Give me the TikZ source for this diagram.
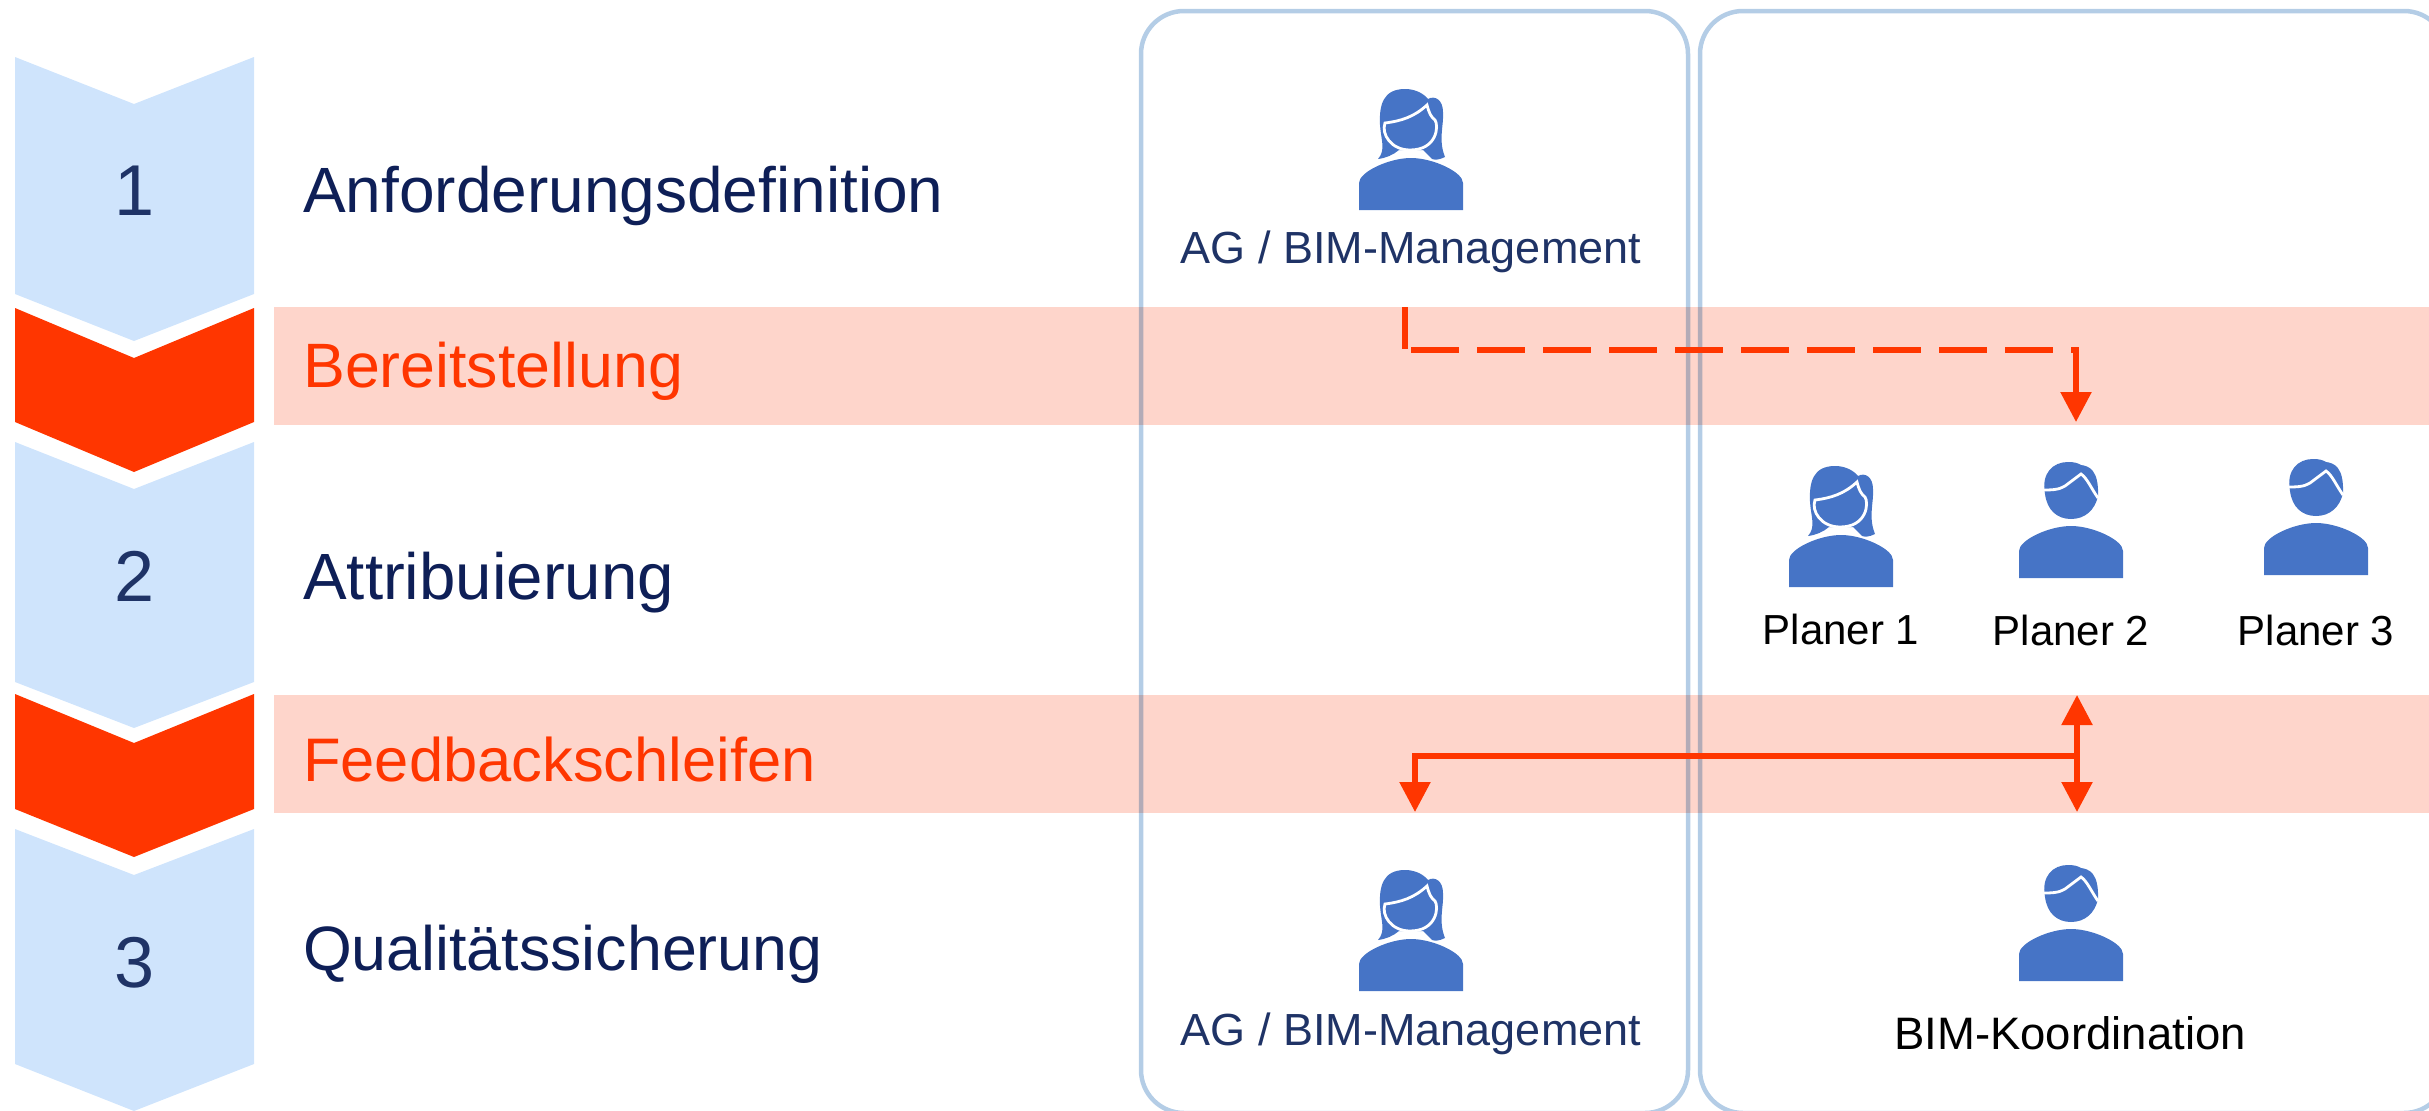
\documentclass[tikz,border=0pt]{standalone}
\usepackage{fontspec}
\setmainfont{Liberation Sans}
\usetikzlibrary{arrows.meta}
\definecolor{stepblue}{HTML}{CFE4FC}
\definecolor{signalred}{HTML}{FF3600}
\definecolor{bandred}{HTML}{FED5CB}
\definecolor{laneblue}{HTML}{B4CDE6}
\definecolor{iconblue}{HTML}{4674C6}
\definecolor{darknavy}{HTML}{0E1F57}
\definecolor{midnavy}{HTML}{1F3366}

\begin{document}
\begin{tikzpicture}[
                    x=1pt, y=-1pt,
                    chevblue/.style={fill=stepblue},
                    chevred/.style={fill=signalred},
                    band/.style={fill=bandred},
                    lane/.style={draw=laneblue, line width=4.5pt, rounded corners=43pt},
                    numlabel/.style={anchor=base, inner sep=0pt, text=midnavy, font=\fontsize{72}{72}\selectfont},
                    phase/.style={anchor=base west, inner sep=0pt, text=darknavy, font=\fontsize{#1}{#1}\selectfont},
                    phase/.default=64,
                    phasered/.style={phase=#1, text=signalred},
                    rolelabel/.style={anchor=base, inner sep=0pt, text=midnavy, font=\fontsize{45}{45}\selectfont},
                    namelabel/.style={anchor=base, inner sep=0pt, text=black, font=\fontsize{#1}{#1}\selectfont},
                    namelabel/.default=42,
                    flow/.style={draw=signalred, line width=5.5pt},
                    flowtip/.style={flow, -{Triangle[length=30pt, width=30pt]}},
                    flowboth/.style={flow, {Triangle[length=30pt, width=30pt]}-{Triangle[length=30pt, width=30pt]}},
                    personF/.pic={
                        % hair
                        \fill[iconblue] (-33,-51) .. controls (-25,-60) and (-30,-70) .. (-31,-85)
                            .. controls (-32,-105) and (-28,-121) .. (-6,-121)
                            .. controls (5,-121) and (13,-116) .. (17,-111)
                            .. controls (24,-115) and (32,-110) .. (32,-98)
                            .. controls (33,-85) and (27,-70) .. (34,-53)
                            .. controls (28,-50) and (24,-50) .. (21,-51)
                            -- (12,-60) -- (-12,-60) .. controls (-18,-55) and (-25,-52) .. cycle;
                        % face
                        \draw[fill=iconblue, draw=white, line width=2.8pt] (-26,-87)
                            .. controls (-10,-89) and (3,-93) .. (16,-105)
                            .. controls (18,-97) and (20,-93) .. (24,-90)
                            .. controls (28,-84) and (26,-60) .. (-1,-60)
                            .. controls (-20,-60) and (-30,-76) .. cycle;
                        % body
                        \fill[iconblue] (-52,0) -- (-52,-27)
                            .. controls (-52,-38) and (-22,-52) .. (0,-52)
                            .. controls (22,-52) and (52,-38) .. (52,-27)
                            -- (52,0) -- cycle;
                    },
                    personM/.pic={
                        % head
                        \fill[iconblue] (-26,-84) .. controls (-30,-105) and (-18,-116) .. (-3,-116)
                            .. controls (3,-116) and (7,-115) .. (10,-113)
                            .. controls (18,-112) and (28,-108) .. (27,-82)
                            .. controls (24,-68) and (14,-59) .. (0,-59)
                            .. controls (-14,-59) and (-24,-68) .. cycle;
                        % hair line
                        \draw[white, line width=2.8pt] (-29,-88)
                            .. controls (-20,-88) and (-12,-88) .. (-6,-92)
                            -- (10,-104) .. controls (16,-100) and (20,-90) .. (27,-80);
                        % body
                        \fill[iconblue] (-52,0) -- (-52,-27)
                            .. controls (-52,-38) and (-22,-52) .. (0,-52)
                            .. controls (22,-52) and (52,-38) .. (52,-27)
                            -- (52,0) -- cycle;
                    }
                ]
                \useasboundingbox (0,0) rectangle (2429,1111);
                \clip (0,0) rectangle (2429,1111);

                % left column of steps
                \path[chevblue] (15,57) -- (134,104) -- (254,57) -- (254,294) -- (134,341) -- (15,294) -- cycle;
                \path[chevred] (15,308) -- (134,358) -- (254,308) -- (254,422) -- (134,472) -- (15,422) -- cycle;
                \path[chevblue] (15,442) -- (134,489) -- (254,442) -- (254,682) -- (134,728) -- (15,682) -- cycle;
                \path[chevred] (15,694) -- (134,743) -- (254,694) -- (254,809) -- (134,857) -- (15,809) -- cycle;
                \path[chevblue] (15,829) -- (134,875) -- (254,829) -- (254,1064) -- (134,1111) -- (15,1064) -- cycle;

                % bands
                \path[band] (274,307) rectangle (2429,425);
                \path[band] (274,695) rectangle (2429,813);

                % lanes
                \begin{scope}[blend mode=multiply]
                    \draw[lane] (1141,11) rectangle (1688,1113);
                    \draw[lane] (1700,11) rectangle (2447,1113);
                \end{scope}

                \node (numOne) at (135,215)[numlabel]{1};
                \node (numTwo) at (135,601)[numlabel]{2};
                \node (numThree) at (135,987)[numlabel]{3};

                \node (anforderung) at (303,212)[phase]{Anforderungsdefinition};
                \node (bereit) at (303,387)[phasered=62.7]{Bereitstellung};
                \node (attribut) at (303,599)[phase=65.4]{Attribuierung};
                \node (feedback) at (303,781)[phasered=61.5]{Feedbackschleifen};
                \node (quali) at (303,970)[phase=62.7]{Qualitätssicherung};

                % people
                \pic at (1411,210) {personF};
                \pic at (1411,991) {personF};
                \pic at (1841,587) {personF};
                \pic at (2071,578) {personM};
                \pic at (2316,575) {personM};
                \pic at (2071,981) {personM};

                \node (agTop) at (1411,263)[rolelabel]{AG / BIM-Management};
                \node (agBottom) at (1411,1045)[rolelabel]{AG / BIM-Management};
                \node (planerOne) at (1841,644)[namelabel]{Planer 1};
                \node (planerTwo) at (2071,645)[namelabel]{Planer 2};
                \node (planerThree) at (2316,645)[namelabel]{Planer 3};
                \node (koord) at (2070,1049)[namelabel=45.5]{BIM-Koordination};

                % handover, dashed
                \coordinate (handStart) at (1405,307);
                \coordinate (handCorner) at (1405,349);
                \coordinate (dashStart) at (1411,350);
                \coordinate (dashEnd) at (2079,350);
                \coordinate (handDown) at (2076,347);
                \coordinate (handTip) at (2076,422);
                \draw[flow] (handStart) -- (handCorner);
                \draw[flow, line width=6pt, dash pattern=on 48pt off 18pt] (dashStart) -- (dashEnd);
                \draw[flowtip] (handDown) -- (handTip);

                % feedback loop
                \coordinate (loopTop) at (2077,695);
                \coordinate (loopBottom) at (2077,812);
                \coordinate (loopRight) at (2077,756);
                \coordinate (loopLeft) at (1415,756);
                \coordinate (loopTip) at (1415,812);
                \draw[flowboth] (loopTop) -- (loopBottom);
                \draw[flow, line width=6pt, line join=miter] (loopRight) -- (loopLeft) -- ++(0,20);
                \draw[flowtip] (loopLeft) -- (loopTip);
            \end{tikzpicture}
\end{document}
